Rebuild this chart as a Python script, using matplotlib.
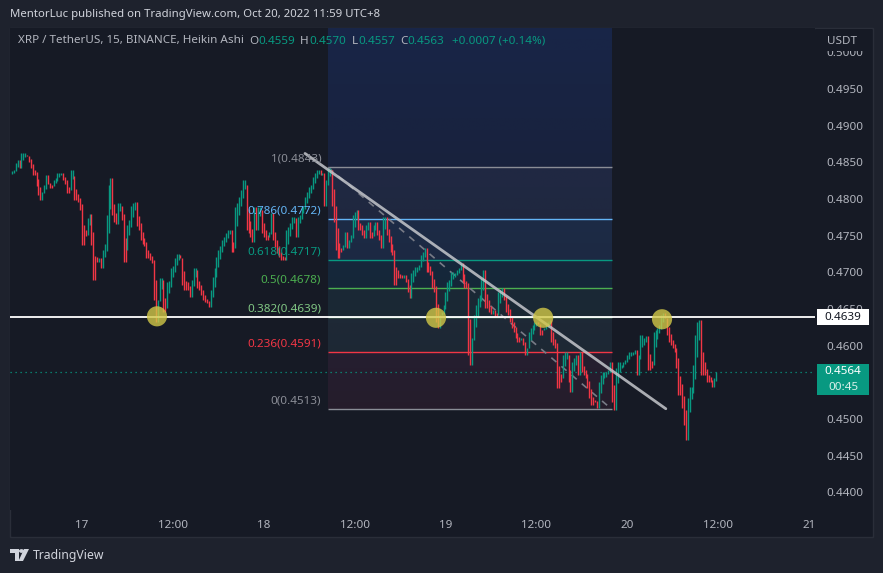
"""TradingView style snapshot: XRP/USDT 15m Heikin Ashi with a fib retracement."""

import matplotlib
matplotlib.use("Agg")
import matplotlib.pyplot as plt
import numpy as np
from matplotlib.patches import Rectangle, Polygon, Circle

# ---------------------------------------------------------------------------
# data
# ---------------------------------------------------------------------------
# Heikin Ashi closes, 15 min bars, first bar Oct 16 14:30 (UTC+8)
ha_close = [
    0.4834, 0.4838, 0.4839, 0.4849, 0.4853, 0.4842, 0.4862, 0.4862, 0.4860, 0.4858,
    0.4850, 0.4842, 0.4832, 0.4834, 0.4817, 0.4805, 0.4798, 0.4809, 0.4819, 0.4832,
    0.4821, 0.4815, 0.4817, 0.4826, 0.4828, 0.4836, 0.4835, 0.4836, 0.4826, 0.4821,
    0.4808, 0.4812, 0.4839, 0.4831, 0.4798, 0.4801, 0.4796, 0.4785, 0.4737, 0.4749,
    0.4751, 0.4774, 0.4779, 0.4737, 0.4689, 0.4719, 0.4714, 0.4719, 0.4706, 0.4730, 0.4738,
    0.4778, 0.4819, 0.4828, 0.4778, 0.4768, 0.4766, 0.4794, 0.4791, 0.4771, 0.4714,
    0.4730, 0.4764, 0.4771, 0.4790, 0.4794, 0.4796, 0.4763, 0.4757, 0.4744, 0.4738,
    0.4736, 0.4719, 0.4723, 0.4717, 0.4713, 0.4662, 0.4632, 0.4662, 0.4692, 0.4689,
    0.4646, 0.4651, 0.4687, 0.4688, 0.4706, 0.4708, 0.4719, 0.4725,
    # Oct 17 afternoon -> Oct 18 morning
    0.4723, 0.4719, 0.4683, 0.4676, 0.4685, 0.4676, 0.4666, 0.4689, 0.4706, 0.4703,
    0.4679, 0.4676, 0.4669, 0.4662, 0.4659, 0.4658, 0.4653, 0.4676, 0.4694, 0.4706,
    0.4721, 0.4730, 0.4736, 0.4744, 0.4748, 0.4753, 0.4757, 0.4757, 0.4727, 0.4733, 0.4789,
    0.4794, 0.4802, 0.4812, 0.4826, 0.4819, 0.4757, 0.4753, 0.4748, 0.4741, 0.4789,
    0.4757, 0.4789, 0.4785, 0.4753, 0.4748, 0.4744, 0.4748, 0.4755, 0.4781, 0.4744,
    0.4734, 0.4726, 0.4721, 0.4717, 0.4719, 0.4717, 0.4757, 0.4762, 0.4767, 0.4775,
    0.4774, 0.4748, 0.4775, 0.4778, 0.4789, 0.4791, 0.4802, 0.4809, 0.4816, 0.4819,
    0.4830, 0.4835, 0.4839, 0.4839, 0.4832, 0.4836, 0.4791, 0.4826, 0.4842, 0.4839,
    # Oct 18 morning -> Oct 19 morning
    0.4791, 0.4768, 0.4730, 0.4719, 0.4727, 0.4730, 0.4737, 0.4755, 0.4733, 0.4744, 0.4751,
    0.4778, 0.4782, 0.4785, 0.4757, 0.4760, 0.4751, 0.4747, 0.4764, 0.4768, 0.4747, 0.4749,
    0.4764, 0.4768, 0.4751, 0.4744, 0.4733, 0.4775, 0.4775, 0.4751, 0.4741, 0.4727,
    0.4723, 0.4683, 0.4700, 0.4692, 0.4695, 0.4692, 0.4696, 0.4687, 0.4673, 0.4665, 0.4699,
    0.4703, 0.4707, 0.4706, 0.4710, 0.4723, 0.4727, 0.4733, 0.4700, 0.4703, 0.4696, 0.4679,
    0.4673, 0.4632, 0.4624, 0.4642, 0.4646, 0.4655, 0.4673, 0.4687, 0.4689, 0.4700, 0.4696,
    0.4699, 0.4703, 0.4706, 0.4713, 0.4687, 0.4679, 0.4683, 0.4587, 0.4574,
    # Oct 19 morning -> Oct 20 noon
    0.4610, 0.4642, 0.4655, 0.4665, 0.4669, 0.4692, 0.4703, 0.4651, 0.4655, 0.4646, 0.4643,
    0.4649, 0.4639, 0.4642, 0.4673, 0.4676, 0.4679, 0.4662, 0.4646, 0.4642, 0.4632,
    0.4624, 0.4619, 0.4610, 0.4605, 0.4608, 0.4610, 0.4601, 0.4587, 0.4597, 0.4619,
    0.4624, 0.4628, 0.4632, 0.4632, 0.4629, 0.4614, 0.4621, 0.4624, 0.4628, 0.4632, 0.4635,
    0.4605, 0.4601, 0.4597, 0.4542, 0.4550, 0.4556, 0.4587, 0.4591, 0.4587, 0.4550,
    0.4537, 0.4578, 0.4583, 0.4587, 0.4560, 0.4591, 0.4564, 0.4560, 0.4556, 0.4542,
    0.4529, 0.4519, 0.4523, 0.4523, 0.4515, 0.4550, 0.4560, 0.4564, 0.4560, 0.4564, 0.4567,
    0.4578, 0.4523, 0.4512, 0.4570, 0.4578, 0.4574, 0.4574, 0.4578, 0.4580, 0.4587, 0.4591,
    0.4587, 0.4591, 0.4594, 0.4560, 0.4587, 0.4614, 0.4605, 0.4610, 0.4613, 0.4567,
    0.4570, 0.4574, 0.4619, 0.4621, 0.4624, 0.4628, 0.4642, 0.4644, 0.4638, 0.4614,
    0.4605, 0.4601, 0.4597, 0.4591, 0.4570, 0.4533, 0.4537, 0.4515, 0.4492, 0.4471,
    0.4529, 0.4544, 0.4544, 0.4574, 0.4614, 0.4632, 0.4635, 0.4560, 0.4564, 0.4560,
    0.4550, 0.4556, 0.4550, 0.4544, 0.4556, 0.4564,
]
first_bar_hour = -9.5      # hours relative to Oct 17 00:00
bar_hours = 0.25

time_ticks = [0, 12, 24, 36, 48, 60, 72, 84, 96]
time_labels = ["17", "12:00", "18", "12:00", "19", "12:00", "20", "12:00", "21"]
price_ticks = [0.4400, 0.4450, 0.4500, 0.4600, 0.4650, 0.4700,
               0.4750, 0.4800, 0.4850, 0.4900, 0.4950, 0.5000]

# fib retracement drawn from Oct 18 08:30 to Oct 19 22:00
fib_start, fib_end = 32.5, 70.0
fib_ratios = [1, 0.786, 0.618, 0.5, 0.382, 0.236, 0]
fib_prices = [0.4843, 0.4772, 0.4717, 0.4678, 0.4639, 0.4591, 0.4513]
fib_colors = ["#8a8d96", "#64b5f6", "#089981", "#4caf50", "#81c784", "#f23645", "#8a8d96"]

hline_price = 0.4639
trend_hours = [29.45, 77.1]
trend_prices = [0.4862, 0.4514]
touch_hours = [9.9, 46.75, 60.9, 76.6]
touch_prices = [0.4640, 0.4638, 0.4638, 0.4636]

legend_ohlc = [("O", "0.4559"), ("H", "0.4570"), ("L", "0.4557"), ("C", "0.4563")]
legend_change = "+0.0007 (+0.14%)"
countdown = "00:45"

# ---------------------------------------------------------------------------
# style
# ---------------------------------------------------------------------------
W, H = 883, 573
BG_OUTER = "#1e222d"
BG_CHART = "#161a25"
GREEN = "#089981"
RED = "#f23645"
TEXT = "#b2b5be"
FS = 8.4

plt.rcParams["font.family"] = ["Noto Sans", "DejaVu Sans"]


def fx(x):
    """Pixel x -> figure fraction."""
    return x / W


def fy(y):
    """Pixel y (from top) -> figure fraction."""
    return 1 - y / H


def fig_rect(fig, x0, y0, x1, y1, **kw):
    """Rectangle given in pixel coords (top-left origin)."""
    fig.add_artist(Rectangle((fx(x0), fy(y1)), (x1 - x0) / W, (y1 - y0) / H,
                             transform=fig.transFigure, **kw))


fig = plt.figure(figsize=(W / 100, H / 100), dpi=100, facecolor=BG_OUTER)
renderer = fig.canvas.get_renderer()

# chart panel
fig_rect(fig, 10, 28, 873, 537, facecolor=BG_CHART, edgecolor="#2a2e39", lw=1, zorder=0)

ax = fig.add_axes([fx(10), fy(510), (815 - 10) / W, (510 - 28) / H])
ax.set_facecolor(BG_CHART)
for s in ax.spines.values():
    s.set_visible(False)

x_lo, x_hi = -9.51, 96.8
y_lo, y_hi = 0.4376, 0.5033

# Heikin Ashi candles; the previous close stands in for the wick
closes = np.array(ha_close)
opens = np.empty_like(closes)
opens[0] = closes[0]
for i in range(1, len(closes)):
    opens[i] = (opens[i - 1] + closes[i - 1]) / 2
prev_close = np.concatenate([[closes[0]], closes[:-1]])
lows = np.minimum.reduce([opens, closes, prev_close])
highs = np.maximum.reduce([opens, closes, prev_close])
hours = first_bar_hour + bar_hours * np.arange(len(closes))
up = closes >= opens
ax.vlines(hours, lows, highs, colors=np.where(up, GREEN, RED), linewidth=1.0, zorder=4)

# fib retracement: blue band on top, tinted zones, level lines + labels
grad = np.zeros((64, 2, 4))
grad[..., :3] = matplotlib.colors.to_rgb("#2962ff")
grad[..., 3] = np.linspace(0.03, 0.16, 64)[:, None]
ax.imshow(grad, extent=[fib_start, fib_end, fib_prices[-1], y_hi], origin="lower",
          aspect="auto", zorder=0.5, interpolation="bilinear")
for i in range(len(fib_prices) - 1):
    ax.fill_between([fib_start, fib_end], fib_prices[i + 1], fib_prices[i],
                    color=fib_colors[i], alpha=0.07, lw=0, zorder=1)
for ratio, price, color in zip(fib_ratios, fib_prices, fib_colors):
    ax.hlines(price, fib_start, fib_end, color=color, lw=1.0, zorder=2)
    ax.annotate(f"{ratio:g}({price:.4f})", xy=(fib_start, price), xytext=(-5, 2),
                textcoords="offset points", ha="right", va="bottom",
                color=color, fontsize=FS, zorder=8)
ax.plot([fib_start, fib_end], [fib_prices[0], fib_prices[-1]], color="#787b86",
        lw=1.2, ls=(0, (4, 4)), zorder=3)

# horizontal level, trend line, touch points
ax.axhline(hline_price, color="white", lw=1.3, zorder=5)
ax.plot(trend_hours, trend_prices, color="#c5c7cc", lw=2, alpha=0.85, zorder=6,
        solid_capstyle="round")
ax.scatter(touch_hours, touch_prices, s=210, color="#d2c847", alpha=0.8,
           edgecolors="none", zorder=7)

# last price dotted line
last_price = ha_close[-1]
ax.axhline(last_price, color=GREEN, lw=0.9, ls=(0, (1, 3)), zorder=2)

ax.set_xlim(x_lo, x_hi)
ax.set_ylim(y_lo, y_hi)
ax.set_xticks(time_ticks, time_labels)
ax.tick_params(axis="x", length=0, pad=7.5, colors=TEXT, labelsize=FS)
ax.yaxis.tick_right()
ax.set_yticks(price_ticks, [f"{p:.4f}" for p in price_ticks])
ax.tick_params(axis="y", length=0, pad=8.5, colors=TEXT, labelsize=FS)

# price scale overlays
fig_rect(fig, 816, 29, 872, 51, facecolor=BG_CHART, lw=0, zorder=4)
fig.text(fx(827), fy(41), "USDT", color=TEXT, fontsize=FS, va="center", zorder=6)
fig_rect(fig, 817, 309, 869, 325, facecolor="white", lw=0, zorder=5)
fig.text(fx(843), fy(317), f"{hline_price:.4f}", color="#131722", fontsize=FS,
         ha="center", va="center", zorder=6)
fig_rect(fig, 817, 364, 869, 395, facecolor=GREEN, lw=0, zorder=5)
fig.text(fx(843), fy(372), f"{last_price:.4f}", color="white", fontsize=FS,
         fontweight="bold", ha="center", va="center", zorder=6)
fig.text(fx(843), fy(387), countdown, color="#d8efe9", fontsize=FS,
         ha="center", va="center", zorder=6)

# header + legend
fig.text(fx(10), fy(14), "MentorLuc published on TradingView.com, Oct 20, 2022 11:59 UTC+8",
         color="#d1d4dc", fontsize=8.2, fontweight="semibold", va="center")
fig.text(fx(18), fy(41), "XRP / TetherUS, 15, BINANCE, Heikin Ashi", color=TEXT,
         fontsize=FS, va="center")
for (key, val), x in zip(legend_ohlc, [249, 300, 352, 400]):
    t = fig.text(fx(x), fy(41), key, color=TEXT, fontsize=FS, va="center")
    kw = t.get_window_extent(renderer).width
    fig.text(fx(x + kw + 0.5), fy(41), val, color=GREEN, fontsize=FS, va="center")
fig.text(fx(452), fy(41), legend_change, color=GREEN, fontsize=FS, va="center")

# footer logo
logo_kw = dict(transform=fig.transFigure, facecolor="#d1d4dc", lw=0)
fig.add_artist(Polygon([(fx(10), fy(549)), (fx(19), fy(549)), (fx(19), fy(561)),
                        (fx(15), fy(561)), (fx(15), fy(553)), (fx(10), fy(553))], **logo_kw))
fig.add_artist(Circle((fx(21.5), fy(551)), 1.8 / W, transform=fig.transFigure,
                      color="#d1d4dc"))
fig.add_artist(Polygon([(fx(24), fy(549)), (fx(29), fy(549)), (fx(23), fy(561)),
                        (fx(18.5), fy(561))], **logo_kw))
fig.text(fx(33), fy(555), "TradingView", color="#d1d4dc", fontsize=8.8, va="center")

fig.savefig("out.png", dpi=100, facecolor=BG_OUTER)
plt.close(fig)
